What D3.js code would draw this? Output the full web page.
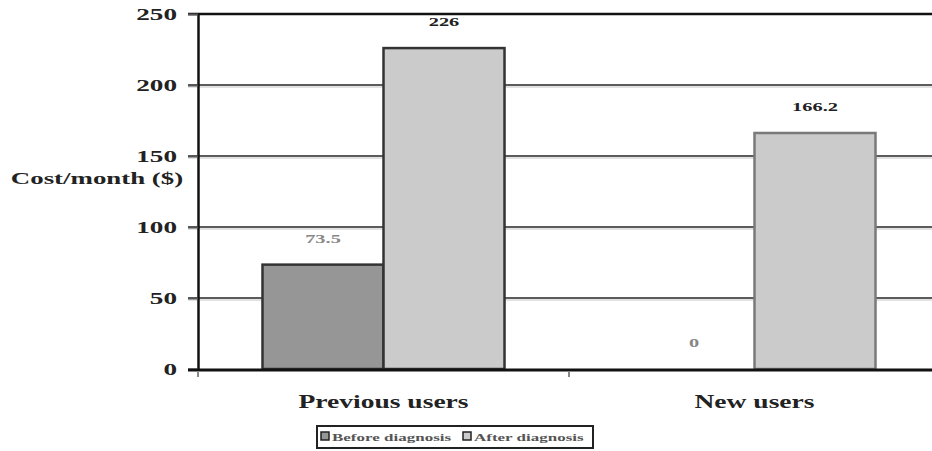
<!DOCTYPE html>
<html>
<head>
<meta charset="utf-8">
<script src="https://cdn.jsdelivr.net/npm/d3@7"></script>
<style>
  html, body { margin: 0; padding: 0; background: #fff; }
  svg { display: block; font-family: "Liberation Serif", "Times New Roman", serif; }
</style>
</head>
<body>
<svg id="chart" width="932" height="451"></svg>
<script>
// Monthly cost per user group, before and after diagnosis
const categories = ["Previous users", "New users"];
const seriesNames = ["Before diagnosis", "After diagnosis"];
const beforeValues = [73.5, 0];
const afterValues = [226, 166.2];
const yTicks = [0, 50, 100, 150, 200, 250];
const yLabel = "Cost/month ($)";

const svg = d3.select("#chart");
const plot = { left: 198, right: 940, top: 14, bottom: 369 };

const x = d3.scaleBand().domain(categories).range([plot.left, plot.right]).paddingInner(0).paddingOuter(0);
const inner = d3.scaleBand().domain(seriesNames).range([0, x.bandwidth()]).paddingInner(0).paddingOuter(0.533);
const y = d3.scaleLinear().domain([0, 250]).range([plot.bottom, plot.top]);

const fills = { "Before diagnosis": "#969696", "After diagnosis": "#cbcbcb" };

// wide-set text: glyphs are stretched horizontally around their anchor point
function wideText(sel, px, py, sx) {
  return sel.attr("x", 0).attr("y", 0)
    .attr("transform", `translate(${px},${py}) scale(${sx},1)`);
}

// horizontal gridlines with a faint shadow line under each
const gridVals = yTicks.filter(d => d > 0 && d < 250);
svg.append("g")
  .selectAll("line")
  .data(gridVals)
  .join("line")
  .attr("x1", plot.left - 10).attr("x2", 932)
  .attr("y1", d => y(d) + 2).attr("y2", d => y(d) + 2)
  .attr("stroke", "#e2e2e2").attr("stroke-width", 2);
svg.append("g")
  .selectAll("line")
  .data(gridVals)
  .join("line")
  .attr("x1", plot.left - 10).attr("x2", 932)
  .attr("y1", d => y(d)).attr("y2", d => y(d))
  .attr("stroke", "#5c5c5c").attr("stroke-width", 2);

// top frame line
svg.append("line")
  .attr("x1", plot.left - 10).attr("x2", 932)
  .attr("y1", y(250)).attr("y2", y(250))
  .attr("stroke", "#111").attr("stroke-width", 2.5);

// bars
const rows = categories.map((c, i) => [
  { cat: c, series: seriesNames[0], value: beforeValues[i], idx: i },
  { cat: c, series: seriesNames[1], value: afterValues[i], idx: i }
]);

const groups = svg.append("g").selectAll("g")
  .data(rows).join("g")
  .attr("transform", d => `translate(${x(d[0].cat)},0)`);

groups.selectAll("rect")
  .data(d => d.filter(v => v.value > 0))
  .join("rect")
  .attr("x", d => inner(d.series))
  .attr("width", inner.bandwidth())
  .attr("y", d => y(d.value))
  .attr("height", d => y(0) - y(d.value))
  .attr("fill", d => fills[d.series])
  .attr("stroke", d => d.idx === 1 ? "#7a7a7a" : "#333")
  .attr("stroke-width", 2.5);

// value labels
groups.selectAll("text")
  .data(d => d)
  .join("text")
  .each(function(d) {
    wideText(d3.select(this), inner(d.series) + inner.bandwidth() / 2, y(d.value) - 22, 1.7);
  })
  .attr("text-anchor", "middle")
  .attr("font-size", 12).attr("font-weight", "bold")
  .attr("fill", d => d.value > 100 ? "#222" : "#888")
  .text(d => d.value);

// y axis
const yAxis = svg.append("g")
  .attr("transform", `translate(${plot.left},0)`)
  .call(d3.axisLeft(y).tickValues(yTicks).tickSize(10).tickPadding(11).tickSizeOuter(0));
yAxis.select(".domain").attr("stroke", "#111").attr("stroke-width", 2.5);
yAxis.selectAll(".tick line").attr("stroke", "#555").attr("stroke-width", 2);
yAxis.selectAll(".tick text")
  .attr("x", null)
  .attr("transform", "translate(-21,0) scale(1.7,1)")
  .attr("font-family", "Liberation Serif, serif")
  .attr("font-size", 16).attr("font-weight", "bold").attr("fill", "#222");

// x axis
svg.append("line")
  .attr("x1", plot.left - 10).attr("x2", 932)
  .attr("y1", plot.bottom + 1).attr("y2", plot.bottom + 1)
  .attr("stroke", "#111").attr("stroke-width", 3);
svg.append("g").selectAll("text")
  .data(categories)
  .join("text")
  .each(function(d) {
    wideText(d3.select(this), x(d) + x.bandwidth() / 2, plot.bottom + 39, 1.45);
  })
  .attr("text-anchor", "middle")
  .attr("font-size", 19).attr("font-weight", "bold").attr("fill", "#222")
  .text(d => d);
// category separator ticks
svg.append("g").selectAll("line")
  .data(categories)
  .join("line")
  .attr("x1", d => x(d)).attr("x2", d => x(d))
  .attr("y1", plot.bottom + 2).attr("y2", plot.bottom + 8)
  .attr("stroke", "#888").attr("stroke-width", 2);

// axis title
wideText(svg.append("text"), 97, 184, 1.68)
  .attr("text-anchor", "middle")
  .attr("font-size", 16).attr("font-weight", "bold").attr("fill", "#222")
  .text(yLabel);

// legend
const legend = svg.append("g").attr("transform", "translate(317,426)");
legend.append("rect")
  .attr("width", 276).attr("height", 22)
  .attr("fill", "#fff").attr("stroke", "#222").attr("stroke-width", 2);
const items = legend.selectAll("g.item")
  .data(seriesNames).join("g").attr("class", "item")
  .attr("transform", (d, i) => `translate(${4 + i * 142},6)`);
items.append("rect")
  .attr("width", 8).attr("height", 8)
  .attr("fill", d => fills[d]).attr("stroke", "#222").attr("stroke-width", 1.5);
items.append("text")
  .each(function() { wideText(d3.select(this), 11, 8.5, 1.7); })
  .attr("font-size", 10).attr("font-weight", "bold").attr("fill", "#555")
  .text(d => d);
</script>
</body>
</html>
